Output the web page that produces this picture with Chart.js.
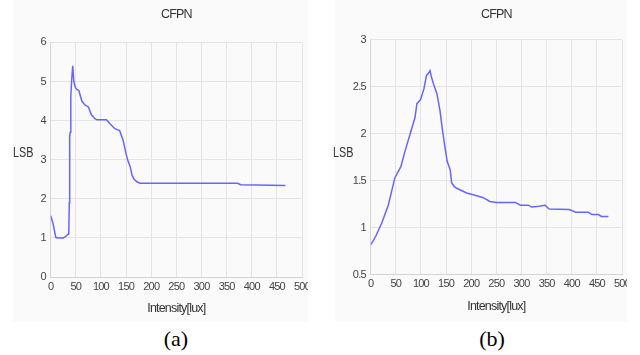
<!DOCTYPE html>
<html>
<head>
<meta charset="utf-8">
<script src="https://cdn.jsdelivr.net/npm/chart.js@4/dist/chart.umd.min.js"></script>
<style>
body{margin:0;background:#fff;width:640px;height:355px;position:relative;overflow:hidden;}
.panel{position:absolute;top:0;height:322px;background:#fafafa;}
canvas{position:absolute;top:0;}
.lsb{position:absolute;font:15px "Liberation Sans",Arial,sans-serif;color:#333;transform:scaleX(0.72);transform-origin:0 0;}
.cap{position:absolute;top:326px;font:22px "Liberation Serif","Times New Roman",serif;color:#000;width:60px;text-align:center;}
</style>
</head>
<body>
<div class="panel" style="left:13px;width:295px"></div>
<div class="panel" style="left:335px;width:292px"></div>
<canvas id="ca" width="295" height="323" style="left:13px"></canvas>
<canvas id="cb" width="292" height="323" style="left:335px"></canvas>
<div class="lsb" style="left:13px;top:143px">LSB</div>
<div class="lsb" style="left:333px;top:143px">LSB</div>
<div class="cap" style="left:146px">(a)</div>
<div class="cap" style="left:462px">(b)</div>
<script>
// (a)
let luxA = [0,5,10,13,25,30,35,36,37,37.5,38,38.8,40,41.5,43.8,46,49,52,56,62,68,75,81,88,92,111,118,127,132,137,144,150,153,158,162,166,172,178,372,378,467];
let lsbA = [1.57,1.35,1.02,1.0,1.0,1.04,1.1,1.15,1.9,2.0,3.6,3.7,4.6,5.0,5.4,5.0,4.85,4.8,4.77,4.5,4.4,4.35,4.15,4.05,4.02,4.02,3.92,3.8,3.77,3.75,3.5,3.15,3.0,2.83,2.6,2.5,2.43,2.4,2.4,2.36,2.34];
// (b)
let luxB = [0,5,10,22,35,48,60,68,78,88,92,99,106,111,116,118,121,125,132,138,143,148,152,158,161,166,171,191,211,224,237,250,288,298,314,320,335,347,355,395,408,433,440,453,459,473];
let lsbB = [0.82,0.86,0.91,1.05,1.24,1.53,1.65,1.81,1.99,2.17,2.32,2.36,2.48,2.62,2.65,2.67,2.6,2.53,2.42,2.24,2.03,1.85,1.71,1.62,1.48,1.44,1.42,1.37,1.34,1.32,1.28,1.27,1.27,1.24,1.24,1.22,1.23,1.24,1.2,1.195,1.165,1.165,1.14,1.14,1.12,1.12];

let titleText = "CFPN";
let xTitle = "Intensity[lux]";
let xTicks = {min:0, max:500, step:50};
let yTicksA = {min:0, max:6, step:1};
let yTicksB = {min:0.5, max:3, step:0.5};

const FONT = '"Liberation Sans",Arial,sans-serif';

// the source text is drawn narrow, tighten the letters a bit
const narrowText = {
id: "narrowText",
beforeDraw(chart){ chart.ctx.letterSpacing = "-0.8px"; }
};

function makeChart(id, lux, lsb, yt, yAxisWidth, padRight, titleBottom, padBottom){
let pts = lux.map((x,i) => ({x:x, y:lsb[i]}));
return new Chart(document.getElementById(id), {
type: "line",
data: {
datasets: [{
data: pts,
borderColor: "#6666ff",
borderWidth: 1.5,
pointRadius: 0,
tension: 0,
fill: false
}]
},
plugins: [narrowText],
options: {
responsive: false,
animation: false,
events: [],
layout: {padding: {left:0, right:padRight, top:0, bottom:padBottom}},
plugins: {
legend: {display:false},
tooltip: {enabled:false},
title: {
display: true,
text: titleText,
fullSize: false,
color: "#333",
font: {family: FONT, size: 12.5, weight: "normal"},
padding: {top:7, bottom:titleBottom}
}
},
scales: {
x: {
type: "linear",
min: xTicks.min, max: xTicks.max,
ticks: {stepSize: xTicks.step, color:"#444", padding:3, maxRotation:0, autoSkip:false,
font:{family:FONT, size:11}},
grid: {color:"#e4e4e4", drawTicks:false},
border: {color:"#d4d4d4"},
title: {display:true, text:xTitle, color:"#333", font:{family:FONT, size:12.5},
padding:{top:5, bottom:4}},
afterFit: s => { s.paddingRight = 0; s.paddingLeft = 0; }
},
y: {
min: yt.min, max: yt.max,
ticks: {stepSize: yt.step, color:"#444", padding:5, font:{family:FONT, size:11},
callback: v => String(v)},
grid: {color:"#e4e4e4", drawTicks:false},
border: {color:"#d4d4d4"},
afterFit: s => { s.width = yAxisWidth; s.paddingTop = 0; s.paddingBottom = 0; }
}
}
}
});
}

makeChart("ca", luxA, lsbA, yTicksA, 37.7, 6, 20.4, 2.7);
makeChart("cb", luxB, lsbB, yTicksB, 35.7, 5, 17.7, 5);
</script>
</body>
</html>
